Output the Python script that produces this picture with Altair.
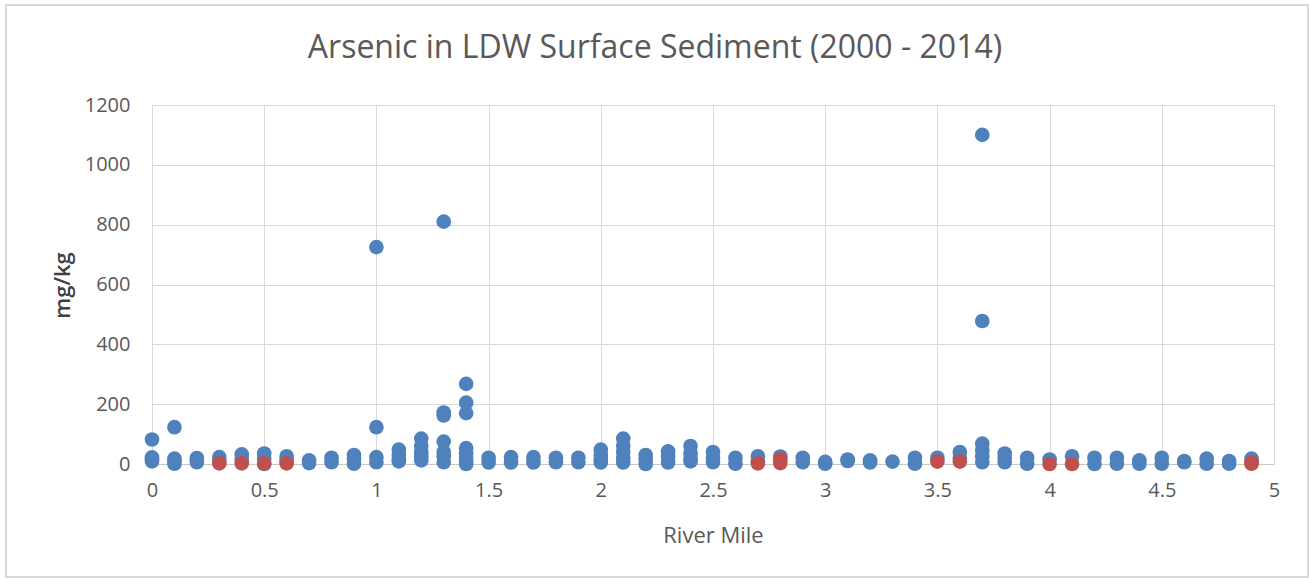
import altair as alt
import pandas as pd

# Blue series: river mile and arsenic (mg/kg)
blue_mile = (
    [0.0] * 4 + [0.1] * 4 + [0.2] * 3 + [0.3] * 2 + [0.4] * 2 + [0.5] * 3 + [0.6] * 2
    + [0.7] * 2 + [0.8] * 2 + [0.9] * 3 + [1.0] * 4 + [1.1] * 4 + [1.2] * 5
    + [1.3] * 7 + [1.4] * 8 + [1.5] * 2 + [1.6] * 2 + [1.7] * 2 + [1.8] * 2
    + [1.9] * 2 + [2.0] * 4 + [2.1] * 5 + [2.2] * 3 + [2.3] * 3 + [2.4] * 4
    + [2.5] * 3 + [2.6] * 2 + [2.7] * 2 + [2.8] * 1 + [2.9] * 2 + [3.0] * 2
    + [3.1] * 2 + [3.2] * 2 + [3.3] * 1 + [3.4] * 2 + [3.5] * 1 + [3.6] * 2
    + [3.7] * 6 + [3.8] * 3 + [3.9] * 2 + [4.0] * 1 + [4.1] * 1 + [4.2] * 2
    + [4.3] * 2 + [4.4] * 2 + [4.5] * 2 + [4.6] * 2 + [4.7] * 2 + [4.8] * 2
    + [4.9] * 1
)
blue_arsenic = [
    82, 22, 15, 9,
    123, 18, 10, 1,
    20, 14, 6,
    23, 10,
    32, 15,
    35, 18, 0,
    26, 12,
    12, 3,
    21, 6,
    30, 15, 1,
    725, 123, 23, 6,
    48, 30, 15, 9,
    85, 60, 40, 25, 12,
    810, 172, 162, 75, 40, 25, 6,
    268, 205, 170, 53, 35, 20, 8, 0,
    21, 5,
    23, 5,
    23, 5,
    21, 6,
    21, 6,
    48, 30, 15, 5,
    85, 60, 40, 20, 5,
    30, 15, 0,
    42, 25, 5,
    60, 35, 18, 9,
    40, 20, 6,
    21, 1,
    26, 8,
    25,
    21, 6,
    7, 1,
    15, 10,
    12, 5,
    8,
    21, 1,
    21,
    40, 20,
    1100, 478, 68, 45, 25, 6,
    35, 20, 6,
    21, 1,
    15,
    26,
    21, 0,
    21, 1,
    12, 1,
    21, 1,
    10, 6,
    18, 1,
    10, 1,
    18,
]

# Red series
red_mile = [0.3, 0.4, 0.5, 0.6, 2.7, 2.8, 2.8, 3.5, 3.6, 4.0, 4.1, 4.9, 4.9]
red_arsenic = [2, 2, 2, 2, 2, 15, 3, 8, 8, 0, 0, 5, 1]

x_ticks = [0, 0.5, 1, 1.5, 2, 2.5, 3, 3.5, 4, 4.5, 5]
y_ticks = [0, 200, 400, 600, 800, 1000, 1200]

blue_df = pd.DataFrame({"mile": blue_mile, "arsenic": blue_arsenic})
red_df = pd.DataFrame({"mile": red_mile, "arsenic": red_arsenic})

FONT = "Open Sans"
GRID = "#d9d9d9"
TEXT = "#595959"

x_enc = alt.X(
    "mile:Q",
    scale=alt.Scale(domain=[0, 5], nice=False, zero=False),
    axis=alt.Axis(
        title="River Mile",
        values=x_ticks,
        format="~g",
        grid=True,
        gridColor=GRID,
        domainColor="#c8c8c8",
        ticks=False,
        labelFlush=False,
        labelPadding=16,
        labelFontSize=20,
        labelColor=TEXT,
        labelFont=FONT,
        titleFont=FONT,
        titleFontSize=22,
        titleFontWeight="normal",
        titleColor=TEXT,
        titleY=71,
        titleBaseline="middle",
    ),
)
y_enc = alt.Y(
    "arsenic:Q",
    scale=alt.Scale(domain=[0, 1200], nice=False),
    axis=alt.Axis(
        title="mg/kg",
        values=y_ticks,
        format="d",
        grid=True,
        gridColor=GRID,
        domain=False,
        ticks=False,
        labelFlush=False,
        labelPadding=22,
        labelFontSize=20,
        labelColor=TEXT,
        labelFont=FONT,
        titleFont=FONT,
        titleFontSize=22,
        titleFontWeight=600,
        titleColor="#404040",
        titleX=-90,
        titleY=180,
        titleAngle=-90,
        titleBaseline="middle",
    ),
)

blue = alt.Chart(blue_df).mark_circle(size=215, opacity=1, color="#4F81BD").encode(x=x_enc, y=y_enc)
red = alt.Chart(red_df).mark_circle(size=215, opacity=1, color="#C0504D").encode(x="mile:Q", y="arsenic:Q")

frame = alt.Chart(alt.Data(values=[{"k": 1}])).mark_rect(
    fill="transparent", stroke="#d9d9d9", strokeWidth=2
).encode(
    x=alt.value(-146), x2=alt.value(1156), y=alt.value(-100), y2=alt.value(472)
)

chart = (
    alt.layer(frame, blue, red)
    .properties(
        width=1122,
        height=359,
        title=alt.TitleParams(
            "Arsenic in LDW Surface Sediment (2000 - 2014)",
            font=FONT,
            fontSize=32,
            fontWeight="normal",
            color=TEXT,
            anchor="middle",
            baseline="alphabetic",
            dx=-58,
            dy=86,
            offset=0,
        ),
        padding={"left": 152, "top": 105, "right": 35, "bottom": 116},
        autosize=alt.AutoSizeParams(type="none"),
        background="white",
    )
    .configure_view(stroke="transparent")
)

chart.save("out.html", embed_options={"renderer": "svg", "actions": False})
